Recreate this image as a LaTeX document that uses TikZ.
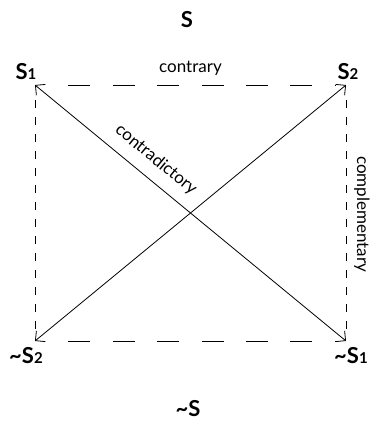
\documentclass[tikz,border=0pt]{standalone}
\usepackage{fontspec}
\setmainfont{Lato}
\usetikzlibrary{arrows.meta}

\newcommand{\sub}[1]{{\fontsize{15}{15}\selectfont #1}}
\newcommand{\nt}{\textasciitilde}

\begin{document}
\begin{tikzpicture}[x=1pt, y=-1pt,
  term/.style={font=\fontsize{22}{22}\selectfont\bfseries, inner sep=0pt},
  rel/.style={font=\fontsize{17}{17}\selectfont, inner sep=0pt},
  diag/.style={line width=0.8pt, {Straight Barb[length=7pt,width=14pt]}-{Straight Barb[length=7pt,width=14pt]}},
  hdash/.style={line width=0.8pt, dash pattern=on 22pt off 22.4pt, dash phase=22pt, shorten <=11pt, shorten >=11pt},
  vdash/.style={line width=0.8pt, dash pattern=on 8pt off 9pt, dash phase=8pt, shorten <=6pt, shorten >=6pt}]
\useasboundingbox (0,0) rectangle (371,426);
% corners of the square
\coordinate (tl) at (35,85);
\coordinate (tr) at (346,85);
\coordinate (bl) at (35,341);
\coordinate (br) at (346,341);
% terms
\node[term] (s) at (187,20) {S};
\node[term] (s1) at (26,72) {S\sub{1}};
\node[term] (s2) at (348,72) {S\sub{2}};
\node[term] (ns2) at (26,356) {\nt S\sub{2}};
\node[term] (ns1) at (351,356) {\nt S\sub{1}};
\node[term] (ns) at (188,409) {\nt S};
% relations
\draw[hdash] (tl) -- (tr) node[rel, midway, above=9pt] (contrary) {contrary};
\draw[hdash] (bl) -- (br);
\draw[vdash] (tl) -- (bl);
\draw[vdash] (tr) -- (br);
\node[rel, rotate=-90, anchor=south] (compl) at (354,214) {complementary};
\draw[diag] (tl) -- (br) node[rel, pos=0.35, sloped, above=11pt] (contra) {contradictory};
\draw[diag] (bl) -- (tr);
\end{tikzpicture}
\end{document}
